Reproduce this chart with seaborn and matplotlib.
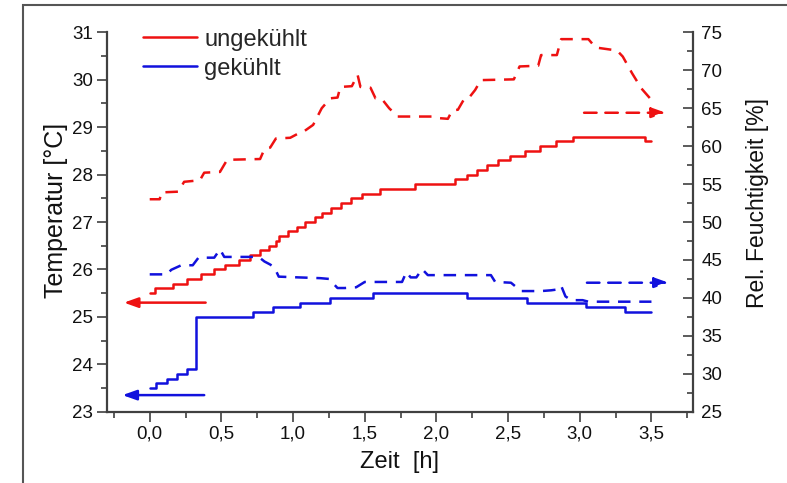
import matplotlib
matplotlib.use("Agg")
import matplotlib.pyplot as plt
import seaborn as sns
from matplotlib.lines import Line2D
from matplotlib.patches import Rectangle
from matplotlib.ticker import MultipleLocator

# Temperatur ungekühlt (Stufen: Zeitpunkt der Änderung, neuer Wert)
t_temp_rot = [0.00, 0.035, 0.165, 0.26, 0.36, 0.445, 0.525, 0.62, 0.70, 0.77, 0.83, 0.88, 0.90,
              0.965, 1.025, 1.085, 1.15, 1.205, 1.265, 1.335, 1.405, 1.48, 1.605, 1.85, 2.13,
              2.21, 2.28, 2.355, 2.43, 2.51, 2.615, 2.72, 2.835, 2.955, 3.455, 3.50]
temp_rot = [25.5, 25.6, 25.7, 25.8, 25.9, 26.0, 26.1, 26.2, 26.3, 26.4, 26.5, 26.6, 26.7,
            26.8, 26.9, 27.0, 27.1, 27.2, 27.3, 27.4, 27.5, 27.6, 27.7, 27.8, 27.9,
            28.0, 28.1, 28.2, 28.3, 28.4, 28.5, 28.6, 28.7, 28.8, 28.7, 28.7]

# Temperatur gekühlt
t_temp_blau = [0.00, 0.045, 0.12, 0.19, 0.26, 0.32, 0.72, 0.86, 1.05, 1.26, 1.56, 2.215,
               2.635, 3.045, 3.315, 3.50]
temp_blau = [23.5, 23.6, 23.7, 23.8, 23.9, 25.0, 25.1, 25.2, 25.3, 25.4, 25.5, 25.4,
             25.3, 25.2, 25.1, 25.1]

# Rel. Feuchtigkeit ungekühlt
t_rh_rot = [0.00, 0.07, 0.08, 0.20, 0.24, 0.35, 0.38, 0.49, 0.54, 0.77, 0.80, 0.84, 0.88, 0.98,
            1.04, 1.08, 1.14, 1.20, 1.26, 1.31, 1.33, 1.41, 1.45, 1.47, 1.54, 1.575, 1.62, 1.67,
            1.73, 1.97, 2.01, 2.08, 2.11, 2.15, 2.19, 2.22, 2.27, 2.31, 2.54, 2.58, 2.71, 2.73,
            2.84, 2.87, 3.06, 3.11, 3.26, 3.30, 3.365, 3.43, 3.49, 3.50]
rh_rot = [53.0, 53.0, 53.9, 54.0, 55.3, 55.5, 56.5, 56.6, 58.2, 58.3, 59.6, 59.8, 61.0, 61.1,
          61.7, 62.0, 62.8, 65.0, 66.3, 66.4, 67.8, 67.9, 69.4, 67.8, 67.7, 66.3, 66.2, 65.0,
          63.9, 63.9, 63.7, 63.6, 64.7, 64.8, 66.1, 66.2, 67.4, 68.7, 68.8, 70.5, 70.6, 72.0,
          72.0, 74.1, 74.1, 73.0, 72.6, 71.8, 69.6, 67.6, 66.3, 66.2]

# Rel. Feuchtigkeit gekühlt
t_rh_blau = [0.00, 0.12, 0.15, 0.22, 0.30, 0.34, 0.45, 0.49, 0.52, 0.63, 0.76, 0.80, 0.84, 0.87,
             0.90, 1.04, 1.19, 1.25, 1.31, 1.36, 1.44, 1.50, 1.76, 1.79, 1.82, 1.86, 1.90, 1.94,
             2.38, 2.41, 2.52, 2.59, 2.73, 2.80, 2.84, 2.87, 2.90, 2.94, 3.02, 3.06, 3.50]
rh_blau = [43.1, 43.1, 43.7, 44.3, 44.3, 45.3, 45.3, 46.4, 45.4, 45.4, 45.4, 44.8, 44.4, 44.0,
           42.8, 42.7, 42.6, 42.5, 41.3, 41.3, 41.4, 42.1, 42.1, 43.4, 42.7, 42.7, 43.8, 43.0,
           43.0, 42.1, 42.0, 40.9, 40.9, 41.0, 41.1, 41.6, 40.2, 39.7, 39.7, 39.5, 39.5]

x_ticks = [0.0, 0.5, 1.0, 1.5, 2.0, 2.5, 3.0, 3.5]
x_tick_labels = ["0,0", "0,5", "1,0", "1,5", "2,0", "2,5", "3,0", "3,5"]
labels = ["ungekühlt", "gekühlt"]

ROT = "#ee1111"
BLAU = "#1111dd"
ACHSE = "#404040"
LW = 1.8

sns.set_theme(style="ticks")
plt.rcParams["font.family"] = ["Liberation Sans", "DejaVu Sans"]

fig = plt.figure(figsize=(7.87, 4.83), dpi=100)
ax = fig.add_axes([0.1356, 0.1476, 0.745, 0.7855])
ax2 = ax.twinx()

# Temperaturen (linke Achse)
sns.lineplot(x=t_temp_rot, y=temp_rot, ax=ax, color=ROT, lw=LW, drawstyle="steps-post",
             estimator=None, sort=False, legend=False)
sns.lineplot(x=t_temp_blau, y=temp_blau, ax=ax, color=BLAU, lw=LW, drawstyle="steps-post",
             estimator=None, sort=False, legend=False)

# Feuchten (rechte Achse, gestrichelt)
sns.lineplot(x=t_rh_rot, y=rh_rot, ax=ax2, color=ROT, lw=LW, linestyle=(0, (5, 3.5)),
             estimator=None, sort=False, legend=False)
sns.lineplot(x=t_rh_blau, y=rh_blau, ax=ax2, color=BLAU, lw=LW, linestyle=(0, (5, 3.5)),
             estimator=None, sort=False, legend=False)

# Pfeile: welche Kurve zu welcher Achse gehört
pfeil = "-|>,head_length=0.7,head_width=0.25"
ax.annotate("", xy=(-0.18, 25.3), xytext=(0.39, 25.3),
            arrowprops=dict(arrowstyle=pfeil, color=ROT, lw=LW, shrinkA=0, shrinkB=0))
ax.annotate("", xy=(-0.19, 23.35), xytext=(0.38, 23.35),
            arrowprops=dict(arrowstyle=pfeil, color=BLAU, lw=LW, shrinkA=0, shrinkB=0))
ax2.annotate("", xy=(3.60, 64.4), xytext=(3.03, 64.4),
             arrowprops=dict(arrowstyle=pfeil, color=ROT, lw=LW, linestyle=(0, (5, 3.5)),
                             shrinkA=0, shrinkB=0))
ax2.annotate("", xy=(3.62, 42.0), xytext=(3.05, 42.0),
             arrowprops=dict(arrowstyle=pfeil, color=BLAU, lw=LW, linestyle=(0, (5, 3.5)),
                             shrinkA=0, shrinkB=0))

# Achsen
ax.set_xlim(-0.30, 3.79)
ax.set_ylim(23, 31)
ax2.set_ylim(25, 75)
ax.set_xticks(x_ticks)
ax.set_xticklabels(x_tick_labels)
ax.xaxis.set_minor_locator(MultipleLocator(0.25))
ax.yaxis.set_major_locator(MultipleLocator(1))
ax.yaxis.set_minor_locator(MultipleLocator(0.5))
ax2.yaxis.set_major_locator(MultipleLocator(5))
ax2.yaxis.set_minor_locator(MultipleLocator(2.5))

ax.set_xlabel("Zeit  [h]", fontsize=17, labelpad=6, color="#111111")
ax.set_ylabel("Temperatur [°C]", fontsize=18, labelpad=3, color="#111111")
ax2.set_ylabel("Rel. Feuchtigkeit [%]", fontsize=16.5, labelpad=17, color="#111111")
ax.yaxis.label.set_y(0.53)
ax2.yaxis.label.set_y(0.55)

ax.tick_params(axis="both", which="major", direction="out", length=7, width=1.2,
               labelsize=13.5, color=ACHSE, labelcolor="#111111", pad=3)
ax.tick_params(axis="both", which="minor", direction="out", length=4, width=1.2, color=ACHSE)
ax2.tick_params(axis="y", which="major", direction="in", length=7, width=1.2,
                labelsize=13.5, color=ACHSE, labelcolor="#111111", pad=6)
ax2.tick_params(axis="y", which="minor", direction="in", length=4, width=1.2, color=ACHSE)

for a in (ax, ax2):
    a.spines["top"].set_visible(False)
    for s in a.spines.values():
        s.set_linewidth(1.6)
        s.set_color(ACHSE)
ax.spines["right"].set_visible(False)
ax2.spines["left"].set_visible(False)
ax2.spines["bottom"].set_visible(False)

# Legende
handles = [Line2D([], [], color=ROT, lw=LW), Line2D([], [], color=BLAU, lw=LW)]
ax.legend(handles, labels, loc="upper left", bbox_to_anchor=(0.062, 1.01), frameon=False,
          fontsize=17, handlelength=2.3, handletextpad=0.3, labelspacing=0.3,
          borderpad=0, borderaxespad=0)

# Rahmen um die Grafik
fig.add_artist(Rectangle((0.0287, -0.1), 1.2, 1.09, transform=fig.transFigure,
                         fill=False, edgecolor="#555555", lw=1.5))

fig.savefig("out.png", dpi=100)
